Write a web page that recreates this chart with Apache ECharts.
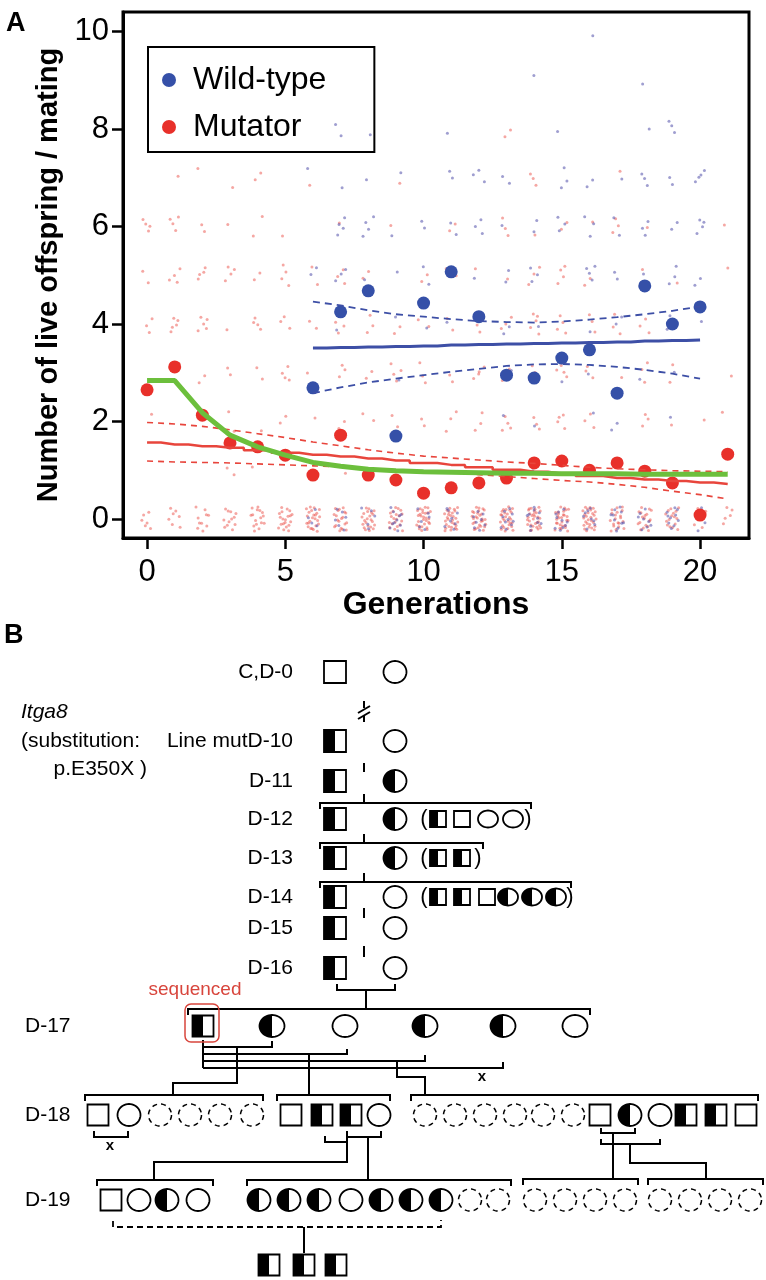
<!DOCTYPE html>
<html>
<head>
<meta charset="utf-8">
<title>Mutator fertility and Itga8 pedigree</title>
<script src="https://cdn.jsdelivr.net/npm/echarts@6/dist/echarts.min.js"></script>
<style>
  html, body { margin: 0; padding: 0; background: #fff; }
  #chart { width: 766px; height: 1280px; }
</style>
</head>
<body>
<div id="chart"></div>
<script>
  // ---- panel A data ----
  const generations = [0, 1, 2, 3, 4, 5, 6, 7, 8, 9, 10, 11, 12, 13, 14, 15, 16, 17, 18, 19, 20, 21]
  const wtGenerations = [6, 7, 8, 9, 10, 11, 12, 13, 14, 15, 16, 17, 18, 19, 20]

  // mean live offspring per mating
  const wtMeans = [2.69, 4.25, 4.68, 1.70, 4.43, 5.07, 4.15, 2.95, 2.89, 3.30, 3.47, 2.58, 4.78, 4.00, 4.35]
  const mutMeans = [2.65, 3.12, 2.13, 1.56, 1.48, 1.31, 0.90, 1.72, 0.90, 0.80, 0.53, 0.64, 0.74, 0.84, 1.15, 1.19, 1.00, 1.15, 0.98, 0.74, 0.08, 1.33]

  // regression fits and their bands
  const wtFit = [3.51, 3.52, 3.53, 3.54, 3.55, 3.57, 3.58, 3.59, 3.60, 3.61, 3.62, 3.63, 3.65, 3.66, 3.67]
  const wtUpper = [4.46, 4.38, 4.28, 4.20, 4.15, 4.10, 4.06, 4.04, 4.03, 4.05, 4.09, 4.14, 4.20, 4.27, 4.36]
  const wtLower = [2.58, 2.70, 2.80, 2.88, 2.95, 3.02, 3.08, 3.14, 3.17, 3.18, 3.16, 3.12, 3.06, 2.98, 2.88]
  const mutFit = [1.57, 1.53, 1.49, 1.46, 1.41, 1.36, 1.32, 1.28, 1.24, 1.20, 1.15, 1.11, 1.06, 1.01, 0.97, 0.93, 0.88, 0.84, 0.81, 0.78, 0.75, 0.72]
  const mutUpper = [1.98, 1.95, 1.90, 1.83, 1.75, 1.67, 1.58, 1.50, 1.42, 1.35, 1.29, 1.25, 1.21, 1.17, 1.14, 1.10, 1.06, 1.03, 1.01, 0.99, 0.98, 0.97]
  const mutLower = [1.19, 1.17, 1.16, 1.15, 1.13, 1.11, 1.09, 1.07, 1.04, 1.01, 0.98, 0.95, 0.91, 0.87, 0.83, 0.79, 0.76, 0.71, 0.65, 0.57, 0.50, 0.41]
  const trendCurve = [2.84, 2.84, 2.18, 1.72, 1.48, 1.31, 1.16, 1.08, 1.02, 0.99, 0.97, 0.96, 0.95, 0.94, 0.94, 0.93, 0.93, 0.93, 0.92, 0.92, 0.92, 0.92]

  // single matings: count per litter size (row 0..10) and generation (col 0..21)
  const mutCounts = [
    [6, 7, 10, 12, 16, 20, 24, 20, 22, 20, 28, 28, 28, 28, 30, 28, 28, 20, 18, 16, 6, 5],
    [0, 0, 0, 2, 1, 0, 0, 1, 0, 1, 0, 0, 0, 0, 0, 0, 0, 0, 0, 0, 0, 0],
    [1, 0, 1, 2, 1, 2, 1, 2, 2, 2, 2, 3, 3, 4, 3, 4, 3, 0, 3, 1, 1, 1],
    [0, 1, 2, 2, 2, 4, 1, 3, 2, 4, 3, 2, 4, 2, 3, 4, 3, 1, 3, 2, 0, 1],
    [3, 5, 5, 1, 4, 3, 2, 4, 3, 2, 2, 2, 3, 3, 5, 4, 3, 3, 3, 0, 0, 0],
    [2, 4, 4, 4, 2, 4, 2, 3, 2, 0, 2, 2, 1, 1, 3, 4, 2, 0, 1, 1, 0, 1],
    [4, 4, 2, 1, 2, 1, 0, 1, 0, 1, 0, 2, 0, 3, 1, 2, 1, 3, 1, 0, 0, 1],
    [0, 1, 1, 1, 2, 0, 1, 0, 0, 1, 0, 0, 0, 0, 3, 0, 0, 1, 0, 0, 0, 0],
    [0, 0, 0, 0, 0, 0, 0, 0, 0, 0, 0, 0, 0, 2, 0, 0, 0, 0, 0, 0, 0, 0],
    [0, 0, 0, 0, 0, 0, 0, 0, 0, 0, 0, 0, 0, 0, 0, 0, 0, 0, 0, 0, 0, 0],
    [0, 0, 0, 0, 0, 0, 0, 0, 0, 0, 0, 0, 0, 0, 0, 0, 0, 0, 0, 0, 0, 0]
  ]
  const wtCounts = [
    [0, 0, 0, 0, 0, 0, 4, 6, 5, 10, 6, 8, 8, 10, 10, 10, 8, 10, 8, 10, 4, 0],
    [0, 0, 0, 0, 0, 0, 0, 0, 0, 0, 0, 0, 0, 0, 2, 0, 0, 0, 0, 0, 0, 0],
    [0, 0, 0, 0, 0, 0, 0, 0, 0, 0, 0, 0, 0, 1, 1, 0, 1, 2, 0, 1, 0, 0],
    [0, 0, 0, 0, 0, 0, 0, 0, 0, 1, 0, 0, 0, 1, 0, 1, 1, 0, 1, 1, 0, 0],
    [0, 0, 0, 0, 0, 0, 0, 1, 0, 1, 1, 1, 1, 2, 1, 0, 1, 2, 0, 3, 1, 0],
    [0, 0, 0, 0, 0, 0, 2, 3, 1, 1, 2, 0, 1, 2, 3, 0, 4, 2, 1, 3, 2, 0],
    [0, 0, 0, 0, 0, 0, 0, 4, 4, 1, 2, 2, 3, 1, 2, 3, 3, 2, 3, 2, 4, 0],
    [0, 0, 0, 0, 0, 0, 1, 1, 1, 1, 0, 2, 3, 2, 0, 3, 2, 1, 3, 2, 4, 0],
    [0, 0, 0, 0, 0, 0, 0, 2, 1, 0, 0, 1, 0, 0, 0, 1, 0, 0, 1, 3, 0, 0],
    [0, 0, 0, 0, 0, 0, 0, 0, 0, 0, 0, 0, 0, 0, 1, 0, 0, 0, 1, 0, 0, 0],
    [0, 0, 0, 0, 0, 0, 0, 0, 0, 0, 0, 0, 0, 0, 0, 0, 1, 0, 0, 0, 0, 0]
  ]

  const xTicks = [0, 5, 10, 15, 20]
  const yTicks = [0, 2, 4, 6, 8, 10]

  // ---- panel B data (pedigree, drawn on a hidden pixel-scaled grid) ----
  const rowLabels = ['C,D-0', 'Line mutD-10', 'D-11', 'D-12', 'D-13', 'D-14', 'D-15', 'D-16', 'D-17', 'D-18', 'D-19', '']
  const rowY = [672, 741, 781, 819, 858, 897, 928, 968, 1026, 1115, 1200, 1265]

  // [row, x, kind]  M/F = male/female, 1 = heterozygous, 0 = wild-type, U = not typed,
  // S = sequenced male, lower case = sibs in brackets
  const people = [
    [0, 335, 'M0'], [0, 395, 'F0'],
    [1, 335, 'M1'], [1, 395, 'F0'],
    [2, 335, 'M1'], [2, 395, 'F1'],
    [3, 335, 'M1'], [3, 395, 'F1'], [3, 438, 'm1'], [3, 462, 'm0'], [3, 488, 'f0'], [3, 513, 'f0'],
    [4, 335, 'M1'], [4, 395, 'F1'], [4, 438, 'm1'], [4, 462, 'm1'],
    [5, 335, 'M1'], [5, 395, 'F0'], [5, 438, 'm1'], [5, 462, 'm1'], [5, 487, 'm0'], [5, 508, 'f1'], [5, 532, 'f1'], [5, 556, 'f1'],
    [6, 335, 'M1'], [6, 395, 'F0'],
    [7, 335, 'M1'], [7, 395, 'F0'],
    [8, 203, 'S1'], [8, 272, 'F1'], [8, 345, 'F0'], [8, 425, 'F1'], [8, 503, 'F1'], [8, 575, 'F0'],
    [9, 98, 'M0'], [9, 129, 'F0'], [9, 160, 'U'], [9, 190, 'U'], [9, 220, 'U'], [9, 252, 'U'],
    [9, 291, 'M0'], [9, 322, 'M1'], [9, 351, 'M1'], [9, 379, 'F0'],
    [9, 425, 'U'], [9, 455, 'U'], [9, 485, 'U'], [9, 515, 'U'], [9, 543, 'U'], [9, 573, 'U'],
    [9, 600, 'M0'], [9, 630, 'F1'], [9, 660, 'F0'], [9, 686, 'M1'], [9, 716, 'M1'], [9, 746, 'M0'],
    [10, 111, 'M0'], [10, 139, 'F0'], [10, 167, 'F1'], [10, 198, 'F0'],
    [10, 259, 'F1'], [10, 289, 'F1'], [10, 319, 'F1'], [10, 351, 'F0'], [10, 381, 'F1'], [10, 411, 'F1'], [10, 441, 'F1'], [10, 470, 'U'], [10, 498, 'U'],
    [10, 535, 'U'], [10, 565, 'U'], [10, 595, 'U'], [10, 625, 'U'],
    [10, 660, 'U'], [10, 690, 'U'], [10, 720, 'U'], [10, 750, 'U'],
    [11, 269, 'M1'], [11, 304, 'M1'], [11, 336, 'M1']
  ]

  // connecting lines (mating / sibship brackets)
  const links = [
    [[364, 701], [364, 708]], [[358, 713], [370, 706]], [[358, 719], [370, 712]], [[364, 716], [364, 722]],
    [[364, 763], [364, 772]], [[364, 794], [364, 803]], [[364, 834], [364, 843]],
    [[364, 873], [364, 882]], [[364, 908], [364, 918]], [[364, 946], [364, 957]],
    [[320, 809], [320, 803], [531, 803], [531, 809]],
    [[320, 849], [320, 843], [483, 843], [483, 849]],
    [[320, 888], [320, 882], [571, 882], [571, 888]],
    [[337, 984], [337, 990], [395, 990], [395, 984]], [[366, 990], [366, 1009]],
    [[188, 1015], [188, 1009], [590, 1009], [590, 1015]],
    [[203, 1040], [203, 1068]],
    [[203, 1047], [272, 1047], [272, 1041]],
    [[203, 1054], [347, 1054], [347, 1049]],
    [[203, 1061], [425, 1061], [425, 1055]],
    [[203, 1068], [503, 1068], [503, 1062]],
    [[237, 1047], [237, 1083], [173, 1083], [173, 1095]],
    [[309, 1054], [309, 1095]],
    [[397, 1061], [397, 1077], [425, 1077], [425, 1095]],
    [[85, 1101], [85, 1095], [263, 1095], [263, 1101]],
    [[277, 1101], [277, 1095], [390, 1095], [390, 1101]],
    [[411, 1101], [411, 1095], [758, 1095], [758, 1101]],
    [[94, 1131], [94, 1137], [128, 1137], [128, 1131]],
    [[325, 1136], [325, 1142], [347, 1142]],
    [[347, 1131], [347, 1137], [381, 1137], [381, 1131]],
    [[347, 1137], [347, 1162], [154, 1162], [154, 1180]],
    [[368, 1137], [368, 1180]],
    [[601, 1128], [601, 1133], [635, 1133], [635, 1128]],
    [[601, 1139], [601, 1144], [660, 1144], [660, 1139]],
    [[613, 1133], [613, 1179]],
    [[630, 1144], [630, 1163], [706, 1163], [706, 1179]],
    [[97, 1186], [97, 1180], [213, 1180], [213, 1186]],
    [[247, 1186], [247, 1180], [511, 1180], [511, 1186]],
    [[523, 1185], [523, 1179], [638, 1179], [638, 1185]],
    [[648, 1185], [648, 1179], [763, 1179], [763, 1185]],
    [[304, 1227], [304, 1253]]
  ]
  const dashedLinks = [
    [[113, 1221], [113, 1227], [441, 1227], [441, 1220]]
  ]

  // [x, y, text, kind]
  const notes = [
    [21, 712, 'Itga8', 'italic'],
    [21, 741, '(substitution:', 'left'],
    [147, 769, 'p.E350X )', 'right'],
    [424, 819, '(', 'paren'], [528, 819, ')', 'paren'],
    [424, 858, '(', 'paren'], [478, 858, ')', 'paren'],
    [424, 897, '(', 'paren'], [570, 897, ')', 'paren'],
    [195, 990, 'sequenced', 'seq'],
    [110, 1146, 'x', 'cross'], [482, 1077, 'x', 'cross']
  ]

  const FONT = '"Liberation Sans", Arial, Helvetica, sans-serif'
  const RED = '#e8302a'
  const BLUE = '#3550a8'

  // deterministic spread of the individual matings around their litter size
  const halton = (i, b) => {
    let f = 1
    let r = 0
    while (i > 0) {
      f /= b
      r += f * (i % b)
      i = Math.floor(i / b)
    }
    return r
  }
  const spread = (counts, shift) => {
    const pts = []
    counts.forEach((row, level) => {
      row.forEach((n, g) => {
        for (let k = 0; k < n; k++) {
          const idx = 1 + k + g * 37 + level * 11 + shift
          const w = level === 0 ? 0.5 : 0.4
          const h = level === 0 ? 0.5 : 0.42
          pts.push([generations[g] + (halton(idx, 2) - 0.5) * w, level + (halton(idx, 3) - 0.5) * h])
        }
      })
    })
    return pts
  }

  const pair = (xs, ys) => xs.map((x, i) => [x, ys[i]])

  // ellipse outline helper for the pedigree symbols
  const arcPoints = (cx, cy, rx, ry, a0, a1, n) => {
    const pts = []
    for (let i = 0; i <= n; i++) {
      const a = a0 + ((a1 - a0) * i) / n
      pts.push([cx + rx * Math.cos(a), cy + ry * Math.sin(a)])
    }
    return pts
  }

  const symbolSize = (row, kind) => {
    if (kind === kind.toLowerCase() && kind !== 'U') return { sq: 16, rx: 10, ry: 8.5 }
    if (row <= 7) return { sq: 22, rx: 11.5, ry: 11 }
    if (row === 8) return { sq: 21, rx: 12.5, ry: 11 }
    return { sq: 21, rx: 11.5, ry: 11 }
  }

  const renderPerson = (params, api) => {
    const [row, , kind] = people[params.dataIndex]
    const c = api.coord([api.value(0), api.value(1)])
    const s = symbolSize(row, kind)
    const k = kind.toUpperCase()
    const line = { stroke: '#000', lineWidth: 1.8 }
    const children = []
    if (k[0] === 'M' || k[0] === 'S') {
      children.push({ type: 'rect', shape: { x: c[0] - s.sq / 2, y: c[1] - s.sq / 2, width: s.sq, height: s.sq }, style: { fill: '#fff', ...line } })
      if (k[1] === '1') {
        children.push({ type: 'rect', shape: { x: c[0] - s.sq / 2, y: c[1] - s.sq / 2, width: s.sq / 2, height: s.sq }, style: { fill: '#000' } })
      }
      if (k[0] === 'S') {
        children.push({ type: 'rect', shape: { x: c[0] - 18, y: c[1] - 22, width: 34, height: 38, r: 6 }, style: { fill: 'none', stroke: '#d8453c', lineWidth: 1.5 } })
      }
    } else if (k[0] === 'F') {
      children.push({ type: 'polygon', shape: { points: arcPoints(c[0], c[1], s.rx, s.ry, 0, Math.PI * 2, 48) }, style: { fill: '#fff', ...line } })
      if (k[1] === '1') {
        children.push({ type: 'polygon', shape: { points: arcPoints(c[0], c[1], s.rx, s.ry, Math.PI / 2, Math.PI * 1.5, 24) }, style: { fill: '#000' } })
      }
    } else {
      children.push({ type: 'polygon', shape: { points: arcPoints(c[0], c[1], s.rx, s.ry, 0, Math.PI * 2, 48) }, style: { fill: 'none', stroke: '#000', lineWidth: 1.5, lineDash: [5, 4] } })
    }
    return { type: 'group', children }
  }

  const noteStyles = {
    label: { font: `21px ${FONT}`, align: 'right', fill: '#000' },
    labelLeft: { font: `21px ${FONT}`, align: 'left', fill: '#000' },
    italic: { font: `italic 21px ${FONT}`, align: 'left', fill: '#000' },
    left: { font: `21px ${FONT}`, align: 'left', fill: '#000' },
    right: { font: `21px ${FONT}`, align: 'right', fill: '#000' },
    paren: { font: `22px ${FONT}`, align: 'center', fill: '#000' },
    seq: { font: `19px ${FONT}`, align: 'center', fill: '#d8453c' },
    cross: { font: `bold 15px ${FONT}`, align: 'center', fill: '#000' }
  }

  // row labels join the free notes
  const allNotes = notes.concat(
    rowLabels
      .map((t, i) => (i <= 7 ? [293, rowY[i], t, 'label'] : [25, rowY[i], t, 'labelLeft']))
      .filter(n => n[2] !== '')
  )

  const renderNote = (params, api) => {
    const n = allNotes[params.dataIndex]
    const c = api.coord([api.value(0), api.value(1)])
    const st = noteStyles[n[3]]
    return {
      type: 'text',
      style: { text: n[2], x: c[0], y: c[1], font: st.font, fill: st.fill, align: st.align, verticalAlign: 'middle' }
    }
  }

  const chart = echarts.init(document.getElementById('chart'))

  chart.setOption({
    animation: false,
    backgroundColor: '#fff',
    textStyle: { fontFamily: FONT },
    graphic: [
      { type: 'text', left: 6, top: 10, style: { text: 'A', font: `bold 27px ${FONT}`, fill: '#000' } },
      { type: 'text', left: 4, top: 622, style: { text: 'B', font: `bold 27px ${FONT}`, fill: '#000' } }
    ],
    legend: {
      data: ['Wild-type', 'Mutator'],
      orient: 'vertical',
      left: 148,
      top: 47,
      padding: [17, 48, 9, 14],
      itemGap: 15,
      itemWidth: 14,
      itemHeight: 14,
      icon: 'circle',
      selectedMode: false,
      borderColor: '#000',
      borderWidth: 2,
      textStyle: { fontSize: 32, color: '#000', fontFamily: FONT, padding: [0, 0, 0, 12] }
    },
    grid: [
      { left: 123, top: 12, width: 626, height: 526, show: true, borderColor: '#000', borderWidth: 3, backgroundColor: 'transparent' },
      { left: 0, top: 620, width: 766, height: 660, show: false }
    ],
    xAxis: [
      {
        gridIndex: 0,
        type: 'value',
        min: -0.87,
        max: 21.77,
        name: 'Generations',
        nameLocation: 'middle',
        nameGap: 49,
        nameTextStyle: { fontSize: 32, fontWeight: 'bold', color: '#000', fontFamily: FONT },
        axisLine: { show: true, onZero: false, lineStyle: { color: '#000', width: 3 } },
        axisTick: { show: true, customValues: xTicks, length: 11, lineStyle: { color: '#000', width: 2.5 } },
        axisLabel: { customValues: xTicks, fontSize: 31, color: '#000', margin: 19, fontFamily: FONT },
        splitLine: { show: false }
      },
      { gridIndex: 1, type: 'value', min: 0, max: 766, show: false }
    ],
    yAxis: [
      {
        gridIndex: 0,
        type: 'value',
        min: -0.39,
        max: 10.4,
        name: 'Number of live offspring / mating',
        nameLocation: 'middle',
        nameGap: 60,
        nameTextStyle: { fontSize: 29, fontWeight: 'bold', color: '#000', fontFamily: FONT },
        axisLine: { show: true, onZero: false, lineStyle: { color: '#000', width: 3 } },
        axisTick: { show: true, customValues: yTicks, length: 11, lineStyle: { color: '#000', width: 2.5 } },
        axisLabel: { customValues: yTicks, fontSize: 31, color: '#000', margin: 14, fontFamily: FONT },
        splitLine: { show: false }
      },
      { gridIndex: 1, type: 'value', min: 620, max: 1280, inverse: true, show: false }
    ],
    series: [
      {
        name: 'Mutator matings',
        type: 'scatter',
        symbolSize: 3,
        itemStyle: { color: 'rgba(236, 80, 72, 0.5)', opacity: 1 },
        data: spread(mutCounts, 0),
        silent: true,
        z: 1
      },
      {
        name: 'Wild-type matings',
        type: 'scatter',
        symbolSize: 3,
        itemStyle: { color: 'rgba(80, 78, 170, 0.55)', opacity: 1 },
        data: spread(wtCounts, 500),
        silent: true,
        z: 1
      },
      {
        name: 'Mutator',
        type: 'scatter',
        symbolSize: 13,
        itemStyle: { color: RED, opacity: 1 },
        data: pair(generations, mutMeans),
        z: 2
      },
      {
        name: 'Wild-type',
        type: 'scatter',
        symbolSize: 13,
        itemStyle: { color: BLUE, opacity: 1 },
        data: pair(wtGenerations, wtMeans),
        z: 2
      },
      {
        name: 'Mutator fit',
        type: 'line',
        step: 'middle',
        symbol: 'none',
        lineStyle: { color: '#e8453c', width: 2.5 },
        data: pair(generations, mutFit),
        z: 3
      },
      {
        name: 'Mutator upper',
        type: 'line',
        symbol: 'none',
        lineStyle: { color: '#e8453c', width: 1.6, type: [6, 5] },
        data: pair(generations, mutUpper),
        z: 3
      },
      {
        name: 'Mutator lower',
        type: 'line',
        symbol: 'none',
        lineStyle: { color: '#e8453c', width: 1.6, type: [6, 5] },
        data: pair(generations, mutLower),
        z: 3
      },
      {
        name: 'Wild-type fit',
        type: 'line',
        step: 'middle',
        symbol: 'none',
        lineStyle: { color: '#3d4fa6', width: 3 },
        data: pair(wtGenerations, wtFit),
        z: 3
      },
      {
        name: 'Wild-type upper',
        type: 'line',
        symbol: 'none',
        lineStyle: { color: '#3d4fa6', width: 1.8, type: [7, 5] },
        data: pair(wtGenerations, wtUpper),
        z: 3
      },
      {
        name: 'Wild-type lower',
        type: 'line',
        symbol: 'none',
        lineStyle: { color: '#3d4fa6', width: 1.8, type: [7, 5] },
        data: pair(wtGenerations, wtLower),
        z: 3
      },
      {
        name: 'Trend',
        type: 'line',
        symbol: 'none',
        lineStyle: { color: '#6cbf3c', width: 5 },
        data: pair(generations, trendCurve),
        z: 4
      },
      // ---- pedigree ----
      {
        name: 'links',
        type: 'lines',
        coordinateSystem: 'cartesian2d',
        xAxisIndex: 1,
        yAxisIndex: 1,
        polyline: true,
        silent: true,
        lineStyle: { color: '#000', width: 2, opacity: 1 },
        data: links
          .map(p => ({ coords: p }))
          .concat(dashedLinks.map(p => ({ coords: p, lineStyle: { type: [6, 4], width: 1.8 } })))
      },
      {
        name: 'people',
        type: 'custom',
        xAxisIndex: 1,
        yAxisIndex: 1,
        silent: true,
        renderItem: renderPerson,
        data: people.map(p => [p[1], rowY[p[0]]]),
        z: 5
      },
      {
        name: 'notes',
        type: 'custom',
        xAxisIndex: 1,
        yAxisIndex: 1,
        silent: true,
        renderItem: renderNote,
        data: allNotes.map(n => [n[0], n[1]]),
        z: 5
      }
    ]
  })
</script>
</body>
</html>
